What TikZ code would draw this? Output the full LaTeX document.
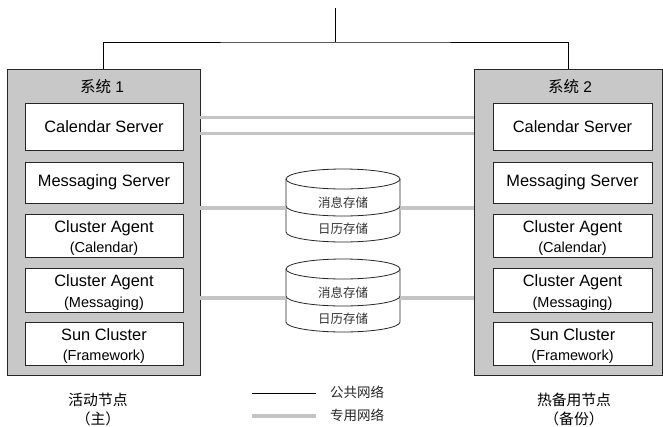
\documentclass[tikz,border=0pt]{standalone}
\usepackage{fontspec}
\setmainfont{Liberation Sans}
\newfontfamily\cjk{Noto Sans CJK SC}
\definecolor{panelgray}{RGB}{200,200,200}
\definecolor{privgray}{RGB}{196,196,196}
\newcommand\toplinestrut{\rule{0pt}{17pt}}
\begin{document}
\begin{tikzpicture}[x=1pt,y=-1pt,
  pub/.style={draw=black, line width=0.9pt},
  priv/.style={draw=privgray, line width=3.4pt},
  sysbox/.style={draw=black!85, fill=panelgray, line width=0.9pt, inner sep=0pt, minimum height=306pt},
  srv/.style={draw=black!85, fill=white, line width=0.8pt, inner sep=0pt, align=center,
    font=\fontsize{16.4}{20.5}\selectfont},
  systitle/.style={font=\fontsize{15.5}{18}\selectfont},
  dbline/.style={draw=black!85, line width=0.8pt},
  dbtext/.style={font=\cjk\fontsize{12.5}{14}\selectfont, text=black!80, inner sep=0pt},
  legtext/.style={font=\cjk\fontsize{13.5}{16}\selectfont, text=black!85, inner sep=0pt, anchor=west},
  role/.style={font=\cjk\fontsize{14.8}{19}\selectfont, align=center, inner sep=0pt},
  dbstore/.pic={
    \fill[white] (-57,0) -- (-57,53) arc[start angle=180,end angle=360,x radius=57pt,y radius=10pt]
       -- (57,0) arc[start angle=0,end angle=180,x radius=57pt,y radius=10pt] -- cycle;
    \draw[dbline] (-57,0) -- (-57,53) arc[start angle=180,end angle=360,x radius=57pt,y radius=10pt] -- (57,0);
    \draw[dbline] (0,0) ellipse[x radius=57pt,y radius=10pt];
    \draw[dbline] (-57,27) arc[start angle=180,end angle=360,x radius=57pt,y radius=10pt];
    \node[dbtext] (-a) at (0,23.5) {消息存储};
    \node[dbtext] (-b) at (0,50) {日历存储};
    \coordinate (-l) at (-57,29);
    \coordinate (-r) at (57,29);
  }]
\useasboundingbox (0,0) rectangle (663,426);

% system panels
\node[sysbox, minimum width=193pt] (sys1) at (103.5,222) {};
\node[sysbox, minimum width=188pt] (sys2) at (568,222) {};
\node[systitle] (t1) at (102,86.5) {{\cjk 系统} 1};
\node[systitle] (t2) at (570,86.5) {{\cjk 系统} 2};

% public network
\coordinate (top) at (335,8);
\coordinate (hub) at (335,42);
\draw[pub] (sys1.north) |- (hub) -| (sys2.north);
\draw[pub] (hub) -- (top);

% left boxes
\node[srv, minimum width=158pt, minimum height=47pt] (cal1) at (104,126.5) {Calendar Server};
\node[srv, minimum width=158pt, minimum height=41pt] (msg1) at (104,182.5) {Messaging Server};
\node[srv, minimum width=158pt, minimum height=43pt] (caa1) at (104,235.5) {\toplinestrut Cluster Agent\\{\fontsize{14.5}{20.5}\selectfont (Calendar)}};
\node[srv, minimum width=158pt, minimum height=44pt] (cam1) at (104,290) {\toplinestrut Cluster Agent\\{\fontsize{14.5}{20.5}\selectfont (Messaging)}};
\node[srv, minimum width=158pt, minimum height=43pt] (sc1) at (104,343.5) {\toplinestrut Sun Cluster\\{\fontsize{14.5}{20.5}\selectfont (Framework)}};

% right boxes
\node[srv, minimum width=159pt, minimum height=47pt] (cal2) at (572.5,126.5) {Calendar Server};
\node[srv, minimum width=159pt, minimum height=41pt] (msg2) at (572.5,182.5) {Messaging Server};
\node[srv, minimum width=159pt, minimum height=43pt] (caa2) at (572.5,235.5) {\toplinestrut Cluster Agent\\{\fontsize{14.5}{20.5}\selectfont (Calendar)}};
\node[srv, minimum width=159pt, minimum height=44pt] (cam2) at (572.5,290) {\toplinestrut Cluster Agent\\{\fontsize{14.5}{20.5}\selectfont (Messaging)}};
\node[srv, minimum width=159pt, minimum height=43pt] (sc2) at (572.5,343.5) {\toplinestrut Sun Cluster\\{\fontsize{14.5}{20.5}\selectfont (Framework)}};

% private network (heartbeat)
\draw[priv] ([yshift=9pt]sys1.east |- cal1) -- ([yshift=9pt]sys2.west |- cal1);
\draw[priv] ([yshift=-7pt]sys1.east |- cal1) -- ([yshift=-7pt]sys2.west |- cal1);

% storage
\pic (db1) at (343,179) {dbstore};
\pic (db2) at (343,269) {dbstore};
\draw[priv] (sys1.east |- db1-l) -- (db1-l);
\draw[priv] (db1-r) -- (sys2.west |- db1-r);
\draw[priv] (sys1.east |- db2-l) -- (db2-l);
\draw[priv] (db2-r) -- (sys2.west |- db2-r);

% roles
\node[role] (r1) at (98,409.5) {活动节点\\（主）};
\node[role] (r2) at (574,409.5) {热备用节点\\（备份）};

% legend
\coordinate (la1) at (252,393);
\coordinate (lb1) at (316,393);
\coordinate (la2) at (252,416);
\coordinate (lb2) at (316,416);
\draw[pub] (la1) -- (lb1);
\draw[priv] (la2) -- (lb2);
\node[legtext] (lt1) at (330,392.5) {公共网络};
\node[legtext] (lt2) at (330,415.5) {专用网络};
\end{tikzpicture}
\end{document}
